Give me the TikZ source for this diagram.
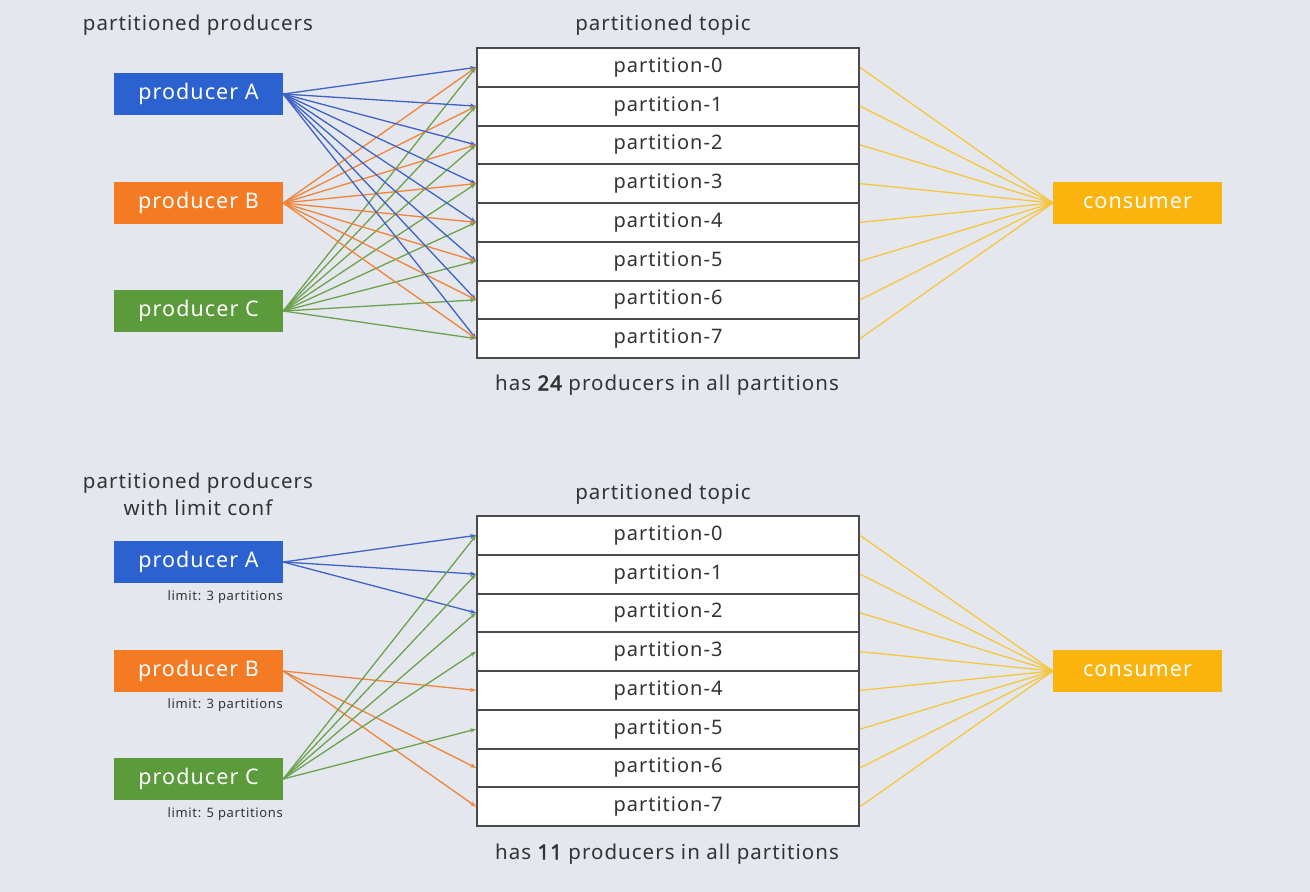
\documentclass[tikz,border=0pt]{standalone}
\usepackage{fontspec}
\setmainfont[LetterSpace=5]{Noto Sans}
\newfontfamily\bfnum[LetterSpace=5, FakeBold=2.5]{Noto Sans}
\usetikzlibrary{arrows.meta}
\definecolor{bgc}{HTML}{E4E7EE}
\definecolor{pa}{HTML}{2C62CF}
\definecolor{pb}{HTML}{F47A24}
\definecolor{pc}{HTML}{5B9B3B}
\definecolor{cy}{HTML}{FBB40E}
\definecolor{la}{HTML}{3E62C6}
\definecolor{lb}{HTML}{F0843A}
\definecolor{lc}{HTML}{6DA24C}
\definecolor{ly}{HTML}{F6C640}
\definecolor{txt}{HTML}{333333}
\definecolor{bord}{HTML}{4A4A4A}
\tikzset{
  prod/.style={minimum width=169pt, minimum height=42pt, inner sep=0pt, text=white, font=\fontsize{21.5}{24}\selectfont},
  part/.style={draw=bord, line width=2pt, fill=white, minimum width=382pt, minimum height=38.75pt, inner sep=0pt, text=txt, font=\fontsize{20}{22}\selectfont},
  lbl/.style={text=txt, font=\fontsize{20.5}{27}\selectfont, align=center, inner sep=0pt},
  lim/.style={text=txt, font=\fontsize{13}{15}\selectfont, inner sep=0pt, anchor=east},
  arr/.style={line width=1.3pt, -{Stealth[length=6pt,width=4.5pt]}},
  ea/.style={arr, la},
  eb/.style={arr, lb},
  ec/.style={arr, lc},
  ey/.style={line width=1.3pt, ly},
}
\begin{document}
\begin{tikzpicture}[x=1pt,y=-1pt]
\fill[bgc] (0,0) rectangle (1310,892);
\useasboundingbox (0,0) rectangle (1310,892);
% ---------- top ----------
\node[lbl] (h1) at (198,25) {partitioned producers};
\node[lbl] (h2) at (663,25) {partitioned topic};
\foreach \k in {0,...,7} {
  \node[part] (t\k) at (668,{48+38.75*(\k+0.5)}) {partition-\k};
}
\node[prod, fill=pa] (A1) at (198.5,94) {producer A};
\node[prod, fill=pb] (B1) at (198.5,203) {producer B};
\node[prod, fill=pc] (C1) at (198.5,311) {producer C};
\node[prod, fill=cy] (D1) at (1137.5,203) {consumer};
\node[lbl] (f1) at (667,385) {has {\bfnum 24} producers in all partitions};
\foreach \k in {0,...,7} {
  \draw[ea] (A1.east) -- (t\k.west);
  \draw[eb] (B1.east) -- (t\k.west);
  \draw[ec] (C1.east) -- (t\k.west);
  \draw[ey] (t\k.east) -- (D1.west);
}
% ---------- bottom ----------
\node[lbl] (h3) at (198,494) {partitioned producers\\with limit conf};
\node[lbl] (h4) at (663,494) {partitioned topic};
\foreach \k in {0,...,7} {
  \node[part] (u\k) at (668,{516+38.75*(\k+0.5)}) {partition-\k};
}
\node[prod, fill=pa] (A2) at (198.5,562) {producer A};
\node[prod, fill=pb] (B2) at (198.5,671) {producer B};
\node[prod, fill=pc] (C2) at (198.5,779) {producer C};
\node[prod, fill=cy] (D2) at (1137.5,671) {consumer};
\node[lim] (la2) at (283,597) {limit: 3 partitions};
\node[lim] (lb2) at (283,705) {limit: 3 partitions};
\node[lim] (lc2) at (283,814) {limit: 5 partitions};
\node[lbl] (f2) at (667,854) {has {\bfnum 11} producers in all partitions};
\foreach \k in {0,1,2} { \draw[ea] (A2.east) -- (u\k.west); }
\foreach \k in {4,6,7} { \draw[eb] (B2.east) -- (u\k.west); }
\foreach \k in {0,1,2,3,5} { \draw[ec] (C2.east) -- (u\k.west); }
\foreach \k in {0,...,7} { \draw[ey] (u\k.east) -- (D2.west); }
\end{tikzpicture}
\end{document}
